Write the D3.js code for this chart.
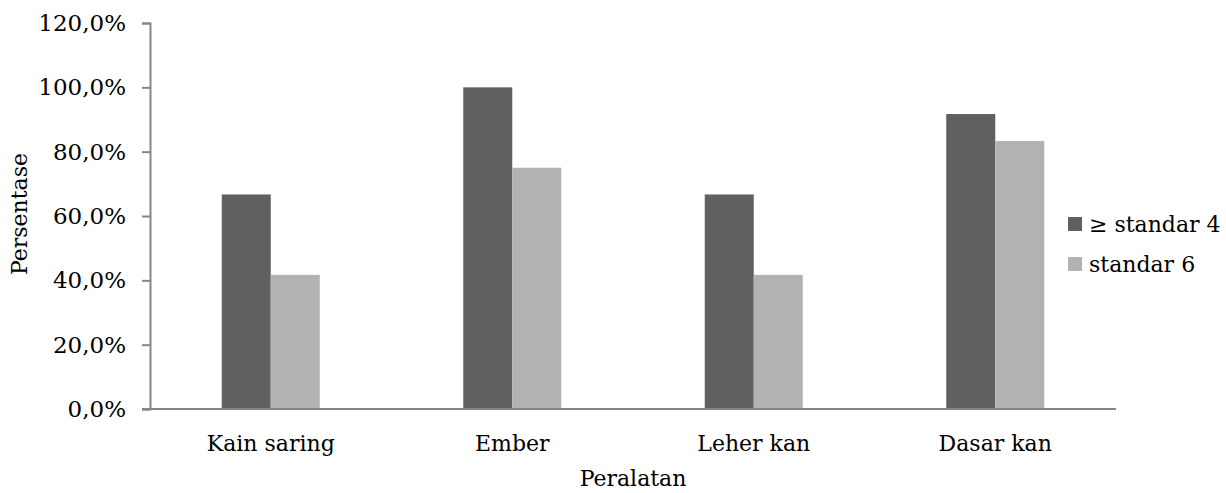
<!DOCTYPE html>
<html><head><meta charset="utf-8">
<script src="https://cdn.jsdelivr.net/npm/d3@7"></script>
<style>body{margin:0;background:#fff}svg{display:block}text{font-family:"DejaVu Serif",serif;fill:#000}</style>
</head><body><svg id="c" width="1226" height="493"></svg>
<script>
const categories = ["Kain saring","Ember","Leher kan","Dasar kan"];
const seriesNames = ["≥ standar 4","standar 6"];
const series1 = [66.7,100,66.7,91.7];
const series2 = [41.7,75,41.7,83.3];
const yTicks = [0,20,40,60,80,100,120];
const colors = ["#606060","#b2b2b2"];

const svg = d3.select("#c");
const fs = 22;
const x0 = 150, x1 = 1116, yTop = 23, yBot = 409;
const x = d3.scaleBand().domain(categories).range([x0,x1]);
const y = d3.scaleLinear().domain([0,120]).range([yBot,yTop]);
const bw = 49;
const inner = d3.scaleBand().domain([0,1]).range([-bw, bw]);

const data = categories.map((c,i)=>({c, v:[series1[i],series2[i]]}));
const g = svg.append("g");
data.forEach(d=>{
  d.v.forEach((v,k)=>{
    g.append("rect").attr("x", x(d.c)+x.bandwidth()/2+inner(k)).attr("width", inner.bandwidth())
      .attr("y", y(v)).attr("height", yBot-y(v)).attr("fill", colors[k]);
  });
});

// y axis
const ya = svg.append("g").attr("transform",`translate(${x0},0)`)
  .call(d3.axisLeft(y).tickValues(yTicks).tickSize(8).tickPadding(16).tickFormat(d=>d3.format(".1f")(d).replace(".",",")+"%"));
ya.select(".domain").attr("stroke","#868686").attr("stroke-width",2);
ya.selectAll(".tick line").attr("stroke","#868686").attr("stroke-width",2);
ya.selectAll("text").style("font-family","DejaVu Serif").style("font-size","23px").attr("fill","#000");

// x axis
const xa = svg.append("g").attr("transform",`translate(0,${yBot})`)
  .call(d3.axisBottom(x).tickSize(0).tickPadding(26));
xa.select(".domain").attr("stroke","#868686").attr("stroke-width",2).attr("d",`M${x0-8},0H${x1}`);
xa.selectAll("text").style("font-family","DejaVu Serif").style("font-size",fs+"px").attr("fill","#000");

svg.append("text").attr("transform","translate(27,214) rotate(-90)").attr("text-anchor","middle")
  .style("font-size",fs+"px").text("Persentase");
svg.append("text").attr("x",633).attr("y",486).attr("text-anchor","middle")
  .style("font-size",fs+"px").text("Peralatan");

const leg = svg.append("g");
seriesNames.forEach((n,k)=>{
  const yy = 224 + k*40;
  leg.append("rect").attr("x",1068).attr("y",yy-7).attr("width",14).attr("height",14).attr("fill",colors[k]);
  leg.append("text").attr("x",1089).attr("y",yy+8).style("font-size",fs+"px").text(n);
});
</script></body></html>
